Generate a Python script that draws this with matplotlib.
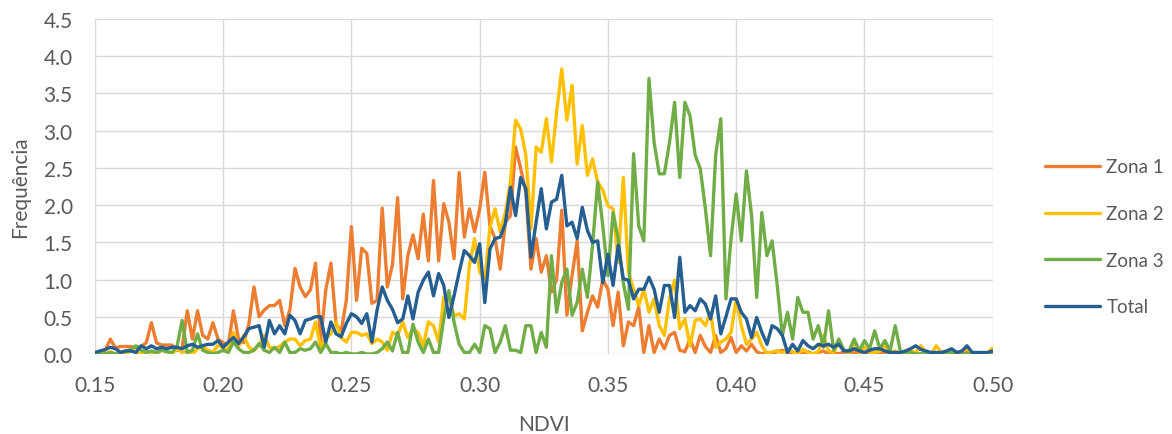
import numpy as np
import matplotlib.pyplot as plt

plt.rcParams['font.family'] = ['Lato', 'DejaVu Sans']

# NDVI bins (0.002 wide) from 0.150 to 0.500
ndvi = np.round(np.arange(0.150, 0.5005, 0.002), 3)

zona1 = [0.0, 0.0, 0.05, 0.2, 0.08, 0.1, 0.1, 0.1, 0.08, 0.1,
         0.15, 0.42, 0.15, 0.12, 0.12, 0.12, 0.05, 0.08, 0.58, 0.2,
         0.58, 0.25, 0.2, 0.42, 0.2, 0.15, 0.12, 0.58, 0.2, 0.15,
         0.4, 0.9, 0.5, 0.59, 0.65, 0.65, 0.72, 0.38, 0.59, 1.15,
         0.9, 0.77, 0.86, 1.22, 0.18, 0.86, 1.22, 0.4, 0.3, 0.72,
         1.71, 0.72, 1.42, 1.35, 0.68, 0.72, 1.96, 0.9, 1.2, 2.1,
         0.74, 1.32, 1.6, 1.28, 1.88, 1.25, 2.33, 1.25, 2.02, 1.77,
         1.28, 2.44, 1.57, 1.95, 1.64, 1.95, 2.44, 1.72, 1.55, 1.14,
         1.77, 1.86, 2.78, 2.49, 2.17, 1.14, 1.55, 1.1, 1.32, 0.83,
         1.0, 1.93, 0.52, 1.05, 1.52, 0.31, 0.56, 0.78, 0.63, 1.0,
         0.87, 0.38, 0.83, 0.11, 0.43, 0.38, 0.63, 0.02, 0.38, 0.02,
         0.2, 0.07, 0.25, 0.29, 0.05, 0.03, 0.2, 0.02, 0.25, 0.1,
         0.02, 0.25, 0.02, 0.07, 0.22, 0.02, 0.11, 0.04, 0.13, 0.03,
         0.0, 0.02, 0.0, 0.03, 0.05, 0.02, 0.0, 0.02, 0.0, 0.03,
         0.0, 0.02, 0.04, 0.0, 0.02, 0.0, 0.03, 0.0, 0.02, 0.0,
         0.0, 0.02, 0.0, 0.0, 0.03, 0.0, 0.02, 0.0, 0.0, 0.02,
         0.0, 0.0, 0.02, 0.0, 0.0, 0.0, 0.02, 0.0, 0.0, 0.0,
         0.02, 0.0, 0.0, 0.0, 0.0, 0.0]

zona2 = [0.0, 0.02, 0.0, 0.03, 0.0, 0.02, 0.0, 0.05, 0.02, 0.0,
         0.04, 0.02, 0.0, 0.05, 0.03, 0.0, 0.07, 0.02, 0.04, 0.0,
         0.07, 0.1, 0.05, 0.02, 0.12, 0.08, 0.05, 0.29, 0.1, 0.25,
         0.09, 0.05, 0.12, 0.25, 0.09, 0.07, 0.1, 0.16, 0.2, 0.2,
         0.11, 0.18, 0.2, 0.43, 0.09, 0.22, 0.27, 0.43, 0.22, 0.16,
         0.29, 0.29, 0.25, 0.27, 0.14, 0.2, 0.16, 0.05, 0.29, 0.25,
         0.43, 0.22, 0.34, 0.29, 0.11, 0.43, 0.38, 0.16, 0.76, 0.78,
         0.51, 0.54, 0.47, 1.19, 1.55, 1.1, 1.0, 1.7, 1.95, 1.64,
         1.9, 2.31, 3.14, 3.02, 2.67, 1.68, 2.78, 2.71, 3.16, 2.58,
         3.25, 3.83, 3.14, 3.61, 2.55, 3.07, 2.4, 2.62, 2.31, 2.2,
         1.99, 1.95, 1.23, 2.37, 1.1, 0.87, 0.65, 0.87, 0.56, 0.74,
         0.38, 0.25, 0.74, 0.99, 0.34, 0.47, 0.11, 0.45, 0.47, 0.38,
         0.56, 0.09, 0.16, 0.2, 0.29, 0.74, 0.38, 0.13, 0.2, 0.29,
         0.11, 0.0, 0.03, 0.04, 0.02, 0.05, 0.03, 0.0, 0.06, 0.02,
         0.0, 0.03, 0.25, 0.04, 0.02, 0.16, 0.05, 0.02, 0.16, 0.02,
         0.09, 0.02, 0.02, 0.04, 0.11, 0.02, 0.04, 0.0, 0.02, 0.04,
         0.02, 0.11, 0.02, 0.0, 0.11, 0.02, 0.0, 0.02, 0.0, 0.04,
         0.07, 0.02, 0.0, 0.0, 0.02, 0.08]

zona3 = [0.0, 0.0, 0.0, 0.02, 0.0, 0.02, 0.04, 0.06, 0.11, 0.05,
         0.02, 0.04, 0.02, 0.05, 0.03, 0.02, 0.1, 0.45, 0.02, 0.05,
         0.27, 0.05, 0.02, 0.0, 0.02, 0.05, 0.02, 0.16, 0.07, 0.02,
         0.02, 0.05, 0.14, 0.05, 0.02, 0.09, 0.02, 0.16, 0.02, 0.02,
         0.07, 0.05, 0.07, 0.16, 0.02, 0.14, 0.02, 0.02, 0.0, 0.02,
         0.0, 0.0, 0.02, 0.0, 0.0, 0.02, 0.07, 0.16, 0.04, 0.29,
         0.02, 0.02, 0.4, 0.16, 0.02, 0.2, 0.02, 0.02, 0.47, 0.85,
         0.43, 0.13, 0.02, 0.02, 0.13, 0.02, 0.38, 0.34, 0.02, 0.16,
         0.38, 0.05, 0.05, 0.02, 0.38, 0.38, 0.02, 0.29, 0.09, 1.32,
         0.56, 0.96, 1.14, 0.52, 0.69, 1.14, 0.76, 1.46, 2.31, 1.72,
         1.05, 1.9, 1.55, 0.95, 0.6, 2.69, 1.72, 1.52, 3.7, 2.84,
         2.42, 2.42, 2.84, 3.38, 2.37, 3.38, 3.2, 2.67, 2.49, 1.95,
         1.32, 2.67, 3.16, 0.74, 1.55, 2.15, 1.52, 2.46, 1.86, 0.76,
         1.9, 1.32, 1.52, 0.92, 0.25, 0.56, 0.2, 0.76, 0.56, 0.56,
         0.2, 0.38, 0.09, 0.58, 0.05, 0.2, 0.05, 0.04, 0.2, 0.04,
         0.18, 0.07, 0.31, 0.07, 0.18, 0.04, 0.38, 0.04, 0.0, 0.02,
         0.0, 0.0, 0.02, 0.0, 0.0, 0.0, 0.0, 0.02, 0.0, 0.0,
         0.0, 0.0, 0.0, 0.0, 0.0, 0.0]

total = [0.02, 0.04, 0.06, 0.09, 0.07, 0.02, 0.04, 0.04, 0.02, 0.11,
         0.07, 0.11, 0.07, 0.09, 0.07, 0.09, 0.09, 0.07, 0.11, 0.13,
         0.09, 0.11, 0.13, 0.13, 0.18, 0.09, 0.16, 0.22, 0.14, 0.23,
         0.34, 0.36, 0.38, 0.09, 0.45, 0.27, 0.38, 0.27, 0.52, 0.45,
         0.27, 0.45, 0.47, 0.5, 0.5, 0.16, 0.43, 0.27, 0.23, 0.41,
         0.54, 0.5, 0.41, 0.54, 0.16, 0.59, 0.9, 0.72, 0.6, 0.42,
         0.47, 0.78, 0.47, 0.83, 0.99, 1.1, 0.78, 1.08, 0.92, 0.49,
         0.78, 1.1, 1.39, 1.32, 1.23, 1.48, 0.69, 1.41, 1.55, 1.57,
         1.75, 2.24, 1.86, 2.37, 2.22, 1.3, 1.77, 2.22, 1.68, 2.04,
         2.08, 2.4, 1.72, 1.77, 1.55, 1.97, 1.66, 1.5, 1.52, 0.96,
         1.34, 0.92, 1.46, 1.01, 0.99, 0.74, 0.87, 0.87, 1.03, 0.87,
         0.56, 0.92, 0.92, 0.49, 1.3, 0.56, 0.65, 0.58, 0.74, 0.67,
         0.47, 0.78, 0.27, 0.5, 0.74, 0.74, 0.56, 0.47, 0.22, 0.49,
         0.29, 0.13, 0.38, 0.34, 0.25, 0.02, 0.13, 0.04, 0.18, 0.11,
         0.07, 0.13, 0.11, 0.13, 0.09, 0.13, 0.04, 0.04, 0.07, 0.04,
         0.02, 0.05, 0.07, 0.07, 0.04, 0.02, 0.02, 0.02, 0.04, 0.07,
         0.11, 0.06, 0.04, 0.02, 0.02, 0.02, 0.04, 0.07, 0.02, 0.04,
         0.11, 0.02, 0.02, 0.02, 0.02, 0.04]

series = [('Zona 1', zona1, '#ED7D31'),
          ('Zona 2', zona2, '#FFC000'),
          ('Zona 3', zona3, '#70AD47'),
          ('Total', total, '#255E91')]

xticks = [0.15, 0.20, 0.25, 0.30, 0.35, 0.40, 0.45, 0.50]
yticks = [0.0, 0.5, 1.0, 1.5, 2.0, 2.5, 3.0, 3.5, 4.0, 4.5]

fig = plt.figure(figsize=(11.72, 4.35), dpi=100)
ax = fig.add_axes([0.081, 0.184, 0.766, 0.770])

for name, vals, col in series:
    ax.plot(ndvi, vals, color=col, lw=2.4, label=name,
            solid_joinstyle='round', solid_capstyle='round')

ax.set_xlim(0.15, 0.50)
ax.set_ylim(0, 4.5)
ax.set_xticks(xticks)
ax.set_yticks(yticks)
ax.set_xticklabels([f'{t:.2f}' for t in xticks])
ax.set_yticklabels([f'{t:.1f}' for t in yticks])
ax.grid(True, color='#d9d9d9', lw=1)
ax.set_axisbelow(True)
for s in ax.spines.values():
    s.set_visible(False)
ax.tick_params(length=0, labelsize=15, colors='#595959')
ax.tick_params(axis='y', pad=16)
ax.tick_params(axis='x', pad=15)

ax.set_xlabel('NDVI', fontsize=15, color='#595959', labelpad=14)
ax.set_ylabel('Frequência', fontsize=15, color='#595959', labelpad=10)

fig.legend(loc='upper left', bbox_to_anchor=(0.884, 0.655), frameon=False,
           fontsize=13.5, handlelength=2.93, handletextpad=0.32,
           labelspacing=1.58, borderpad=0, labelcolor='#595959')

fig.savefig('out.png', dpi=100)
